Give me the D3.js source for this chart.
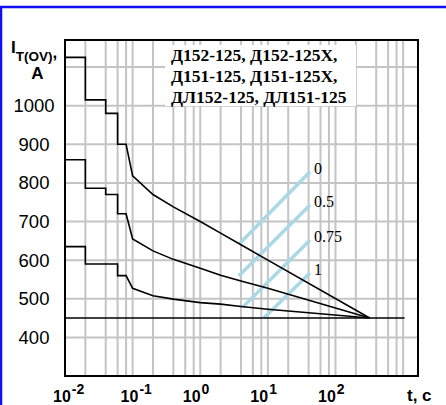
<!DOCTYPE html>
<html>
<head>
<meta charset="utf-8">
<script src="https://cdn.jsdelivr.net/npm/d3@7"></script>
<style>
  body { margin: 0; background: #fff; }
  svg { display: block; }
</style>
</head>
<body>
<script>
// chart values
var xDecades = [-2, -1, 0, 1, 2];
var yTicks = [400, 500, 600, 700, 800, 900, 1000];
var yGrid = [400, 500, 600, 700, 800, 900, 1000, 1100];
var gridMult = [2, 4, 6, 8, 10];

// surge current curves: time (s) and current (A)
var topT = [0.01, 0.02, 0.02, 0.04, 0.04, 0.06, 0.06, 0.08, 0.1, 0.2, 0.4, 1, 2, 4, 10, 320];
var topI = [1125, 1125, 1015, 1015, 980, 980, 900, 900, 818, 770, 738, 700, 670, 640, 600, 450];
var midT = [0.01, 0.02, 0.02, 0.04, 0.04, 0.06, 0.06, 0.08, 0.1, 0.2, 0.4, 1, 2, 4, 10, 320];
var midI = [860, 860, 786, 786, 770, 770, 720, 720, 655, 624, 602, 579, 561, 546, 527, 450];
var lowT = [0.01, 0.02, 0.02, 0.06, 0.06, 0.08, 0.1, 0.2, 0.4, 1, 2, 4, 10, 320];
var lowI = [635, 635, 590, 590, 560, 560, 527, 508, 499, 490, 486, 480, 473, 450];
var baseT = [0.01, 1050];
var baseI = [450, 450];

// light blue guide lines, labelled by ratio
var guideLabels = ["0", "0.5", "0.75", "1"];
var guideT0 = [3.83, 3.7, 4.3, 8.7];
var guideI0 = [643, 559, 479, 450];
var guideT1 = [42, 42, 42, 42];
var guideI1 = [829, 743, 652, 567];

var legendLines = ["Д152-125, Д152-125Х,", "Д151-125, Д151-125Х,", "ДЛ152-125, ДЛ151-125"];

var width = 446, height = 405;

var svg = d3.select("body").append("svg")
    .attr("width", width)
    .attr("height", height);

// blue page border (cut off right and bottom)
svg.append("rect")
    .attr("x", 1).attr("y", 7)
    .attr("width", 600).attr("height", 600)
    .attr("fill", "none")
    .attr("stroke", "#1010f0")
    .attr("stroke-width", 2.5);

var x = d3.scaleLog().domain([0.01, 1660]).range([65, 418]);
var y = d3.scaleLinear().domain([300, 1170]).range([376, 40]);

var xGrid = [];
xDecades.forEach(function(d) {
    gridMult.forEach(function(m) { xGrid.push(Math.pow(10, d) * m); });
});

var grid = svg.append("g").attr("stroke", "#c4c4c4").attr("stroke-width", 2);
grid.selectAll(".vg").data(xGrid).enter().append("line")
    .attr("x1", function(d) { return x(d); })
    .attr("x2", function(d) { return x(d); })
    .attr("y1", y.range()[1])
    .attr("y2", y.range()[0]);
grid.selectAll(".hg").data(yGrid).enter().append("line")
    .attr("x1", x.range()[0])
    .attr("x2", x.range()[1])
    .attr("y1", function(d) { return y(d); })
    .attr("y2", function(d) { return y(d); });

// legend box
svg.append("rect")
    .attr("x", 165).attr("y", 45)
    .attr("width", 191).attr("height", 61)
    .attr("fill", "#fff");
svg.append("g").selectAll("text").data(legendLines).enter().append("text")
    .attr("x", 171)
    .attr("y", function(d, i) { return 61 + i * 21; })
    .attr("font-family", "Liberation Serif, Times New Roman, serif")
    .attr("font-weight", "bold")
    .attr("font-size", 17.5)
    .text(function(d) { return d; });

// guides
var guides = guideLabels.map(function(l, i) {
    return {label: l, t0: guideT0[i], i0: guideI0[i], t1: guideT1[i], i1: guideI1[i]};
});
svg.append("g").selectAll("line").data(guides).enter().append("line")
    .attr("x1", function(d) { return x(d.t0); })
    .attr("y1", function(d) { return y(d.i0); })
    .attr("x2", function(d) { return x(d.t1); })
    .attr("y2", function(d) { return y(d.i1); })
    .attr("stroke", "#a9d8e6")
    .attr("stroke-width", 3.5);
svg.append("g").selectAll("text").data(guides).enter().append("text")
    .attr("x", function(d) { return x(d.t1) + 4; })
    .attr("y", function(d) { return y(d.i1) + 2; })
    .attr("font-family", "Liberation Serif, Times New Roman, serif")
    .attr("font-size", 16)
    .text(function(d) { return d.label; });

// curves
var line = d3.line()
    .x(function(d) { return x(d[0]); })
    .y(function(d) { return y(d[1]); });
var curves = [[topT, topI], [midT, midI], [lowT, lowI], [baseT, baseI]];
svg.append("g").selectAll("path").data(curves).enter().append("path")
    .attr("d", function(c) { return line(d3.zip(c[0], c[1])); })
    .attr("fill", "none")
    .attr("stroke", "#000")
    .attr("stroke-width", 1.6);

// frame
svg.append("rect")
    .attr("x", x.range()[0]).attr("y", y.range()[1])
    .attr("width", x.range()[1] - x.range()[0])
    .attr("height", y.range()[0] - y.range()[1])
    .attr("fill", "none")
    .attr("stroke", "#000")
    .attr("stroke-width", 2);

// y labels
svg.append("g").selectAll("text").data(yTicks).enter().append("text")
    .attr("x", 34)
    .attr("y", function(d) { return y(d) + 6.5; })
    .attr("text-anchor", "middle")
    .attr("font-family", "Liberation Sans, Arial, sans-serif")
    .attr("font-size", 18.5)
    .text(function(d) { return d; });

// y title
var yt = svg.append("text")
    .attr("x", 11).attr("y", 53)
    .attr("font-family", "Liberation Sans, Arial, sans-serif")
    .attr("font-weight", "bold")
    .attr("font-size", 17);
yt.append("tspan").text("I");
yt.append("tspan").attr("font-size", 13.5).attr("dy", 8).text("T(OV)");
yt.append("tspan").attr("font-size", 17).attr("dy", -3).text(",");
svg.append("text")
    .attr("x", 37.5).attr("y", 79)
    .attr("text-anchor", "middle")
    .attr("font-family", "Liberation Sans, Arial, sans-serif")
    .attr("font-weight", "bold")
    .attr("font-size", 17)
    .text("A");

// x labels
var xl = svg.append("g").selectAll("text").data(xDecades).enter().append("text")
    .attr("x", function(d) { return x(Math.pow(10, d)) - (d < 0 ? 12 : 17.5); })
    .attr("y", 402)
    .attr("font-family", "Liberation Sans, Arial, sans-serif")
    .attr("font-weight", "bold")
    .attr("font-size", 16);
xl.append("tspan").text("10");
xl.append("tspan").attr("dy", -8).attr("dx", 1).attr("font-size", 14)
    .text(function(d) { return d; });

svg.append("text")
    .attr("x", 407).attr("y", 401)
    .attr("font-family", "Liberation Sans, Arial, sans-serif")
    .attr("font-weight", "bold")
    .attr("font-size", 17)
    .text("t, c");
</script>
</body>
</html>
